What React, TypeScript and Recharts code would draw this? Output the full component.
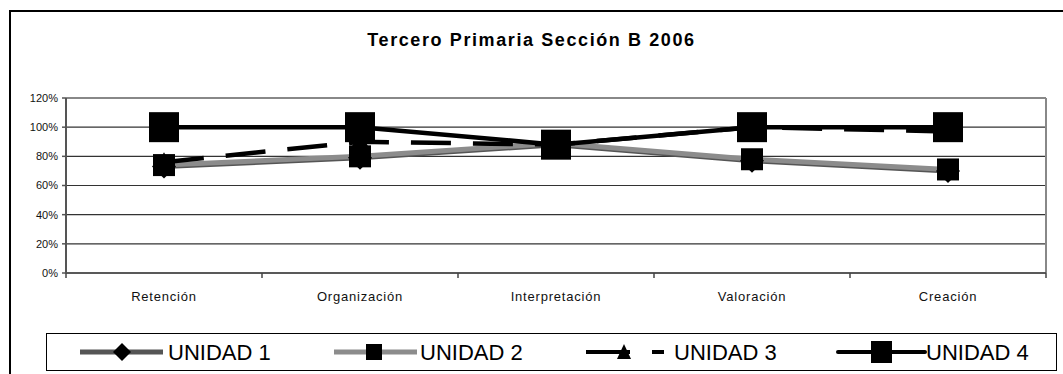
import React from 'react';
import { LineChart, Line, XAxis, YAxis, CartesianGrid, ReferenceLine } from 'recharts';

const title = 'Tercero Primaria Sección B 2006';
const categories = ['Retención', 'Organización', 'Interpretación', 'Valoración', 'Creación'];
const unidad1 = [73, 79, 88, 77, 70];
const unidad2 = [74, 80, 89, 78, 71];
const unidad3 = [76, 90, 88, 100, 97];
const unidad4 = [100, 100, 88, 100, 100];
const seriesNames = ['UNIDAD 1', 'UNIDAD 2', 'UNIDAD 3', 'UNIDAD 4'];
const yTicks = [0, 20, 40, 60, 80, 100, 120];

const FONT = '"Liberation Sans", Arial, sans-serif';
const TICK_MARGIN = 19;

const data = categories.map((name, i) => ({
  pos: i + 0.5,
  name,
  u1: unidad1[i],
  u2: unidad2[i],
  u3: unidad3[i],
  u4: unidad4[i],
}));
// category centres carry labels, category boundaries carry tick marks
const xTicks = [0, ...categories.flatMap((_, i) => [i + 0.5, i + 1])];

const XTick = (props: any) => {
  const { x, y, payload } = props;
  const v = payload.value as number;
  if (Number.isInteger(v)) {
    return <line x1={x} x2={x} y1={y - TICK_MARGIN} y2={y - TICK_MARGIN + 5} stroke="#444" strokeWidth={1.5} />;
  }
  return (
    <text x={x} y={y} dy="0.71em" textAnchor="middle" style={{ fontSize: 13, fill: '#111', fontFamily: FONT, letterSpacing: 0.8 }}>
      {categories[Math.floor(v)]}
    </text>
  );
};

const Diamond = (props: any) => {
  const { cx, cy, index } = props;
  if (cx == null || cy == null) return <g key={'d' + index} />;
  const r = 12;
  return <path key={'d' + index} d={`M${cx},${cy - r}L${cx + r},${cy}L${cx},${cy + r}L${cx - r},${cy}Z`} fill="#000" />;
};
const makeSquare = (size: number, k: string) => (props: any) => {
  const { cx, cy, index } = props;
  if (cx == null || cy == null) return <g key={k + index} />;
  return <rect key={k + index} x={cx - size / 2} y={cy - size / 2} width={size} height={size} fill="#000" />;
};
const Triangle = (props: any) => {
  const { cx, cy, index } = props;
  if (cx == null || cy == null) return <g key={'t' + index} />;
  const r = 10;
  return <path key={'t' + index} d={`M${cx},${cy - r}L${cx + r},${cy + r * 0.8}L${cx - r},${cy + r * 0.8}Z`} fill="#000" />;
};
const SmallSquare = makeSquare(22, 's');
const BigSquare = makeSquare(30, 'b');

const Legend = () => {
  const cy = 19;
  const ty = 26.5;
  const textStyle = { fontFamily: FONT, fontSize: 22, fill: '#000' } as const;
  return (
    <svg style={{ position: 'absolute', left: 46, top: 333 }} width={1012} height={39}>
      <rect x={0.5} y={0.5} width={1010} height={37} fill="#fff" stroke="#000" strokeWidth={1} />
      <line x1={34} x2={117} y1={cy} y2={cy} stroke="#555" strokeWidth={5} />
      <path d={`M76,${cy - 9}L85,${cy}L76,${cy + 9}L67,${cy}Z`} fill="#000" />
      <text x={122} y={ty} style={textStyle}>{seriesNames[0]}</text>
      <line x1={288} x2={371} y1={cy} y2={cy} stroke="#8c8c8c" strokeWidth={5} />
      <rect x={320} y={cy - 8} width={16} height={16} fill="#000" />
      <text x={374} y={ty} style={textStyle}>{seriesNames[1]}</text>
      <line x1={540} x2={584} y1={cy} y2={cy} stroke="#000" strokeWidth={4} />
      <line x1={606} x2={618} y1={cy} y2={cy} stroke="#000" strokeWidth={4} />
      <path d={`M578,${cy - 8}L585,${cy + 7}L571,${cy + 7}Z`} fill="#000" />
      <text x={628} y={ty} style={textStyle}>{seriesNames[2]}</text>
      <line x1={792} x2={879} y1={cy} y2={cy} stroke="#000" strokeWidth={4} strokeLinecap="round" />
      <rect x={825} y={cy - 11} width={21} height={22} fill="#000" />
      <text x={880} y={ty} style={textStyle}>{seriesNames[3]}</text>
    </svg>
  );
};

export default function App() {
  return (
    <div style={{ position: 'absolute', left: 0, top: 0, width: 1063, height: 374, overflow: 'hidden', background: '#fff', fontFamily: FONT }}>
      <div style={{ position: 'absolute', left: 9, top: 10, width: 1200, height: 500, border: '2px solid #000', boxSizing: 'border-box' }} />
      <div style={{ position: 'absolute', left: 0, top: 31, width: 1063, textAlign: 'center', fontSize: 18, lineHeight: '18px', fontWeight: 'bold', letterSpacing: 1.6, color: '#000' }}>
        {title}
      </div>
      <div style={{ position: 'absolute', left: 0, top: 0 }}>
        <LineChart width={1063} height={374} data={data} margin={{ top: 98, right: 17, left: 10, bottom: 71 }}>
          <CartesianGrid vertical={false} stroke="#333" strokeWidth={1.2} />
          <XAxis
            type="number"
            dataKey="pos"
            domain={[0, 5]}
            ticks={xTicks}
            height={30}
            axisLine={{ stroke: '#444', strokeWidth: 1.5 }}
            tickLine={false}
            tickSize={0}
            tickMargin={TICK_MARGIN}
            interval={0}
            tick={XTick}
          />
          <YAxis
            domain={[0, 120]}
            ticks={yTicks}
            width={56}
            tickFormatter={(v: number) => `${v}%`}
            tickSize={4}
            tickMargin={4}
            interval={0}
            axisLine={{ stroke: '#555', strokeWidth: 2 }}
            tickLine={{ stroke: '#555', strokeWidth: 1.5 }}
            tick={{ fontSize: 11, fill: '#111', fontFamily: FONT }}
          />
          <ReferenceLine y={120} stroke="#888" strokeWidth={2} />
          <ReferenceLine x={5} stroke="#888" strokeWidth={2} />
          <Line dataKey="u1" name={seriesNames[0]} stroke="#555" strokeWidth={5} dot={Diamond} activeDot={false} isAnimationActive={false} />
          <Line dataKey="u2" name={seriesNames[1]} stroke="#8c8c8c" strokeWidth={5} dot={SmallSquare} activeDot={false} isAnimationActive={false} />
          <Line dataKey="u3" name={seriesNames[2]} stroke="#000" strokeWidth={4.5} strokeDasharray="40 22" dot={Triangle} activeDot={false} isAnimationActive={false} />
          <Line dataKey="u4" name={seriesNames[3]} stroke="#000" strokeWidth={4.5} dot={BigSquare} activeDot={false} isAnimationActive={false} />
        </LineChart>
      </div>
      <Legend />
    </div>
  );
}
